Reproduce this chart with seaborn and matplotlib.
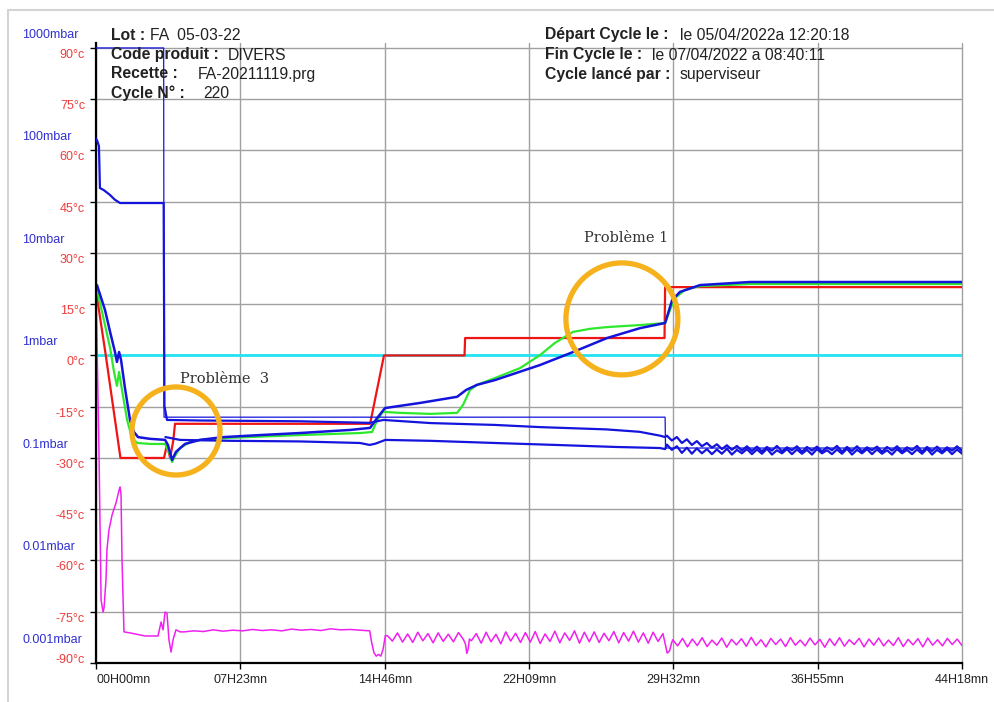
import numpy as np
import pandas as pd
import matplotlib
matplotlib.use("Agg")
import matplotlib.pyplot as plt
from matplotlib.lines import Line2D
from matplotlib.transforms import offset_copy
import seaborn as sns

# ---- axes ticks / labels ----
t_end = 44.3  # hours
x_ticks = [0, 7.383, 14.767, 22.15, 29.533, 36.917, 44.3]
x_labels = ["00H00mn", "07H23mn", "14H46mn", "22H09mn", "29H32mn", "36H55mn", "44H18mn"]
temp_ticks = [90, 75, 60, 45, 30, 15, 0, -15, -30, -45, -60, -75, -90]
temp_labels = ["90°c", "75°c", "60°c", "45°c", "30°c", "15°c", "0°c", "-15°c",
               "-30°c", "-45°c", "-60°c", "-75°c", "-90°c"]
press_ticks = [1000, 100, 10, 1, 0.1, 0.01, 0.001]
press_labels = ["1000mbar", "100mbar", "10mbar", "1mbar", "0.1mbar", "0.01mbar", "0.001mbar"]

# ---- temperatures (hours, °C) ----
ref_t = [0, 44.3]
ref_T = [0, 0]

red_t = [0.0, 0.5, 1.25, 3.48, 3.63, 3.79, 3.95, 4.04, 14.02, 14.73, 18.85, 18.88, 29.08, 29.11, 44.3]
red_T = [19.0, 0.0, -30.0, -30.0, -26.0, -30.0, -25.0, -20.0, -20.0, 0.0, 0.0, 5.1, 5.1, 20.0, 20.0]

green_t = [0.05, 0.46, 0.72, 0.92, 1.07, 1.18, 1.33, 1.59, 1.84, 2.10, 2.76, 3.53, 3.79, 3.89, 4.04,
           4.30, 4.81, 5.32, 6.85, 10.44, 13.51, 14.12, 14.38, 14.68, 15.55, 17.09, 18.47, 18.77,
           19.13, 19.49, 20.41, 21.69, 22.71, 23.48, 24.40, 25.27, 26.14, 27.83, 29.11, 29.36,
           29.62, 30.13, 30.90, 33.46, 44.3]
green_T = [19.2, 8.9, 2.2, -4.8, -8.9, -4.8, -10.1, -18.9, -24.1, -25.6, -25.9, -25.9, -29.1, -31.2,
           -29.4, -27.1, -25.3, -24.7, -24.1, -23.3, -22.7, -22.4, -18.9, -16.5, -16.8, -17.1,
           -16.8, -14.5, -10.1, -8.6, -6.6, -3.7, 0.1, 3.7, 6.9, 7.8, 8.3, 8.9, 9.5, 13.3, 16.8,
           19.2, 20.3, 20.9, 20.9]

probe_t = [0.05, 0.46, 0.72, 0.97, 1.07, 1.18, 1.28, 1.48, 1.74, 1.94, 2.15, 2.76, 3.53, 3.68,
           3.89, 4.09, 4.55, 5.32, 6.50, 8.39, 10.44, 13.0, 14.02, 14.38, 14.78, 16.57, 18.47,
           18.93, 19.49, 20.41, 22.71, 24.40, 26.14, 27.83, 29.11, 29.47, 29.87, 30.90, 33.46, 44.3]
probe_T = [20.6, 13.3, 6.9, 1.0, -1.9, 1.0, -1.3, -9.5, -18.9, -22.4, -23.9, -24.4, -24.7, -26.2,
           -30.6, -28.2, -25.9, -24.7, -23.9, -23.3, -22.7, -21.8, -21.2, -18.3, -15.4, -13.9,
           -12.1, -10.1, -8.6, -7.2, -2.8, 1.0, 5.1, 8.0, 9.5, 16.2, 18.6, 20.6, 21.5, 21.5]

cond_t = [0.0, 0.15, 0.26, 0.36, 0.41, 0.51, 0.56, 0.66, 0.82, 1.02, 1.18, 1.23, 1.28, 1.33, 1.43,
          1.74, 2.51, 3.17, 3.33, 3.43, 3.53, 3.63, 3.73, 3.84, 3.94, 4.09, 4.30]
cond_T = [19.2, -27.7, -71.6, -75.1, -73.9, -65.7, -56.9, -51.1, -46.7, -43.2, -39.4, -38.5, -40.8,
          -59.9, -80.9, -81.2, -82.1, -82.1, -78.0, -80.3, -75.1, -75.4, -83.2, -86.8, -83.2,
          -80.3, -80.9]
cond_a = [-80.9, -80.6, -80.8, -80.3, -80.7, -80.4, -80.6, -80.2, -80.5, -80.3, -80.6, -80.1,
          -80.4, -80.2, -80.5, -80.0, -80.3, -80.2, -80.4, -80.6]           # 4.5 h -> 14.0 h
cond_dip1 = [-84.0, -87.0, -88.0, -87.5, -88.0, -86.0, -82.0]          # 14.1 h -> 14.8 h
cond_c = [-82.0, -83.6, -81.2, -83.9, -81.5, -84.0, -81.0, -83.5, -81.4, -84.1, -81.2, -83.7,
          -81.6, -83.8, -81.1, -83.2]                                     # 14.9 h -> 18.8 h
cond_dip2 = [-84.5, -87.2, -86.0, -83.0]                                  # 18.9 h -> 19.1 h
cond_d = [-83.5, -81.4, -84.2, -81.0, -83.8, -81.6, -84.4, -80.9, -83.6, -81.3, -84.0, -81.1,
          -83.9, -80.8, -84.3, -81.5, -83.7, -80.7, -84.1, -81.2, -83.4, -80.6, -84.2, -81.0,
          -83.8, -80.9, -84.0, -81.3, -83.5, -80.8, -84.1, -81.1, -83.6, -80.7, -83.9, -81.2,
          -84.2, -81.0, -83.7, -81.4]                                     # 19.2 h -> 29.0 h
cond_dip3 = [-84.0, -87.1, -86.5, -84.0]                                  # 29.1 h -> 29.45 h
cond_e = [-83.2, -85.0, -82.8, -85.3, -83.0, -84.9, -82.6, -85.2, -83.3, -84.8, -82.7, -85.4,
          -83.1, -84.7, -82.9, -85.1, -82.5, -84.9, -83.2, -85.3, -82.8, -84.6, -83.0, -85.2,
          -82.6, -84.8, -83.3, -85.0, -82.7, -84.7, -83.1, -85.4, -82.9, -84.9, -82.6, -85.1,
          -83.2, -84.6, -82.8, -85.3, -83.0, -84.8, -82.7, -85.0, -83.3, -84.9, -82.6, -85.2,
          -83.1, -84.7, -82.9, -85.3, -82.7, -84.8, -83.2, -85.0, -82.8, -84.6, -83.0, -84.9]  # 29.5 h -> 44.3 h

# ---- pressures (hours, mbar) ----
sp_t = [0.0, 3.46, 3.48, 29.11, 29.13, 44.3]
sp_P = [1000, 1000, 0.25, 0.25, 0.125, 0.125]

g1_t = [0.0, 0.05, 0.1, 0.15, 0.2, 0.4, 0.7, 0.97, 1.23, 3.46, 3.50, 3.63, 5.3, 10.4, 14.0,
        14.7, 17.1, 20.4, 22.7, 26.1, 27.8, 28.85, 29.11]
g1_P = [130, 126, 118, 110, 43, 41, 37, 33, 30.7, 30.7, 0.32, 0.235, 0.232, 0.228, 0.22, 0.235,
        0.219, 0.21, 0.2, 0.19, 0.18, 0.165, 0.16]
g1_e = [0.165, 0.148, 0.160, 0.140, 0.152, 0.134, 0.146, 0.130, 0.140, 0.126, 0.136, 0.122,
        0.133, 0.120, 0.131, 0.118, 0.130, 0.117, 0.129, 0.116, 0.128, 0.118, 0.131, 0.116,
        0.127, 0.119, 0.130, 0.115, 0.128, 0.118, 0.129, 0.116, 0.127, 0.119, 0.131, 0.115,
        0.128, 0.117, 0.130, 0.116, 0.127, 0.119, 0.129, 0.115, 0.128, 0.118, 0.130, 0.116,
        0.127, 0.119, 0.131, 0.115, 0.128, 0.117, 0.129, 0.116, 0.127, 0.118, 0.130, 0.117]

g2_t = [3.55, 4.3, 6.9, 10.4, 13.5, 14.0, 14.3, 14.8, 17.1, 20.4, 23.5, 26.6, 28.85, 29.11]
g2_P = [0.16, 0.15, 0.147, 0.145, 0.14, 0.134, 0.138, 0.15, 0.147, 0.14, 0.134, 0.128, 0.125, 0.122]
g2_e = [0.135, 0.120, 0.130, 0.112, 0.126, 0.110, 0.124, 0.111, 0.122, 0.109, 0.121, 0.110,
        0.123, 0.108, 0.120, 0.111, 0.122, 0.109, 0.121, 0.110, 0.123, 0.108, 0.119, 0.111,
        0.122, 0.109, 0.121, 0.110, 0.120, 0.108, 0.122, 0.111, 0.119, 0.109, 0.121, 0.110,
        0.123, 0.108, 0.120, 0.111, 0.122, 0.109, 0.121, 0.110, 0.119, 0.108, 0.122, 0.111,
        0.120, 0.109, 0.121, 0.110, 0.123, 0.108, 0.120, 0.111, 0.122, 0.109, 0.121, 0.110]

# annotations
circle_t = [4.09, 26.9]
circle_T = [-22.1, 10.7]
note_t = [6.55, 27.1]
note_T = [-6.9, 34.4]
note_txt = ["Problème  3", "Problème 1"]


def seg(t0, t1, vals):
    return list(np.linspace(t0, t1, len(vals))), list(vals)


# assemble sampled segments
cond_parts = [(cond_t, cond_T), seg(4.5, 14.0, cond_a), seg(14.1, 14.8, cond_dip1),
              seg(14.9, 18.8, cond_c), seg(18.9, 19.1, cond_dip2), seg(19.2, 29.0, cond_d),
              seg(29.1, 29.45, cond_dip3), seg(29.5, 44.3, cond_e)]
cond_x = sum([p[0] for p in cond_parts], [])
cond_y = sum([p[1] for p in cond_parts], [])
g1_x = g1_t + seg(29.2, 44.3, g1_e)[0]
g1_y = g1_P + g1_e
g2_x = g2_t + seg(29.2, 44.3, g2_e)[0]
g2_y = g2_P + g2_e

sns.set_style("white")
plt.rcParams['font.family'] = ['Liberation Sans', 'DejaVu Sans']

fig = plt.figure(figsize=(9.95, 7.02), dpi=100)
ax = fig.add_axes([0.0965, 0.0556, 0.8704, 0.8832])
ax2 = ax.twinx()

red = '#f01414'
blue = '#1414dc'
green = '#2ee82e'
cyan = '#22e4f2'
magenta = '#f020f0'

kw = dict(estimator=None, sort=False)
sns.lineplot(x=ref_t, y=ref_T, ax=ax, color=cyan, linewidth=2.0, **kw)
sns.lineplot(x=red_t, y=red_T, ax=ax, color=red, linewidth=1.6, **kw)
sns.lineplot(x=green_t, y=green_T, ax=ax, color=green, linewidth=1.6, **kw)
sns.lineplot(x=probe_t, y=probe_T, ax=ax, color=blue, linewidth=1.8, **kw)
sns.lineplot(x=cond_x, y=cond_y, ax=ax, color=magenta, linewidth=1.1, **kw)

ax2.set_yscale('log')
sns.lineplot(x=sp_t, y=sp_P, ax=ax2, color=blue, linewidth=0.9, **kw)
sns.lineplot(x=g1_x, y=g1_y, ax=ax2, color=blue, linewidth=1.6, **kw)
sns.lineplot(x=g2_x, y=g2_y, ax=ax2, color=blue, linewidth=1.6, **kw)

ytop = 91.46
ax.set_xlim(0, t_end)
ax.set_ylim(-90, ytop)
ax2.set_ylim(1e-3, 10 ** (ytop / 30.0))

# grid and frame
ax.set_axisbelow(True)
ax.set_xticks(x_ticks)
ax.set_yticks(temp_ticks)
ax.grid(True, color='#a0a0a0', linewidth=1.0)
for gl in ax.get_xgridlines():
    gl.set_clip_on(False)
for s in ['top', 'right']:
    ax.spines[s].set_visible(False)
for s in ax2.spines.values():
    s.set_visible(False)
ax.spines['left'].set_color('black')
ax.spines['left'].set_linewidth(1.6)
ax.spines['bottom'].set_color('black')
ax.spines['bottom'].set_linewidth(1.6)
ax.tick_params(axis='y', left=True, labelleft=False, length=4, width=1, color='black', direction='out')
ax.tick_params(axis='x', bottom=True, length=4, width=1, color='black', direction='out',
               labelsize=9, pad=4, labelcolor='#222222')
ax.set_xticklabels(x_labels)
ax.get_xticklabels()[0].set_ha('left')
ax2.tick_params(axis='y', right=False, labelright=False, which='both')
ax2.set_yticks([])
ax2.minorticks_off()

# y labels: temperature (red) and pressure (blue) on the left
for v, lab in zip(temp_ticks, temp_labels):
    dy = 3 if v == -90 else -7
    tr = offset_copy(ax.get_yaxis_transform(), fig=fig, x=-11, y=dy, units='dots')
    ax.text(0, v, lab, transform=tr, ha='right', va='center', color='#f03c3c', fontsize=9)
for v, lab in zip(press_ticks, press_labels):
    dy = 23 if v == 0.001 else 13
    tr = offset_copy(ax2.get_yaxis_transform(), fig=fig, x=-74, y=dy, units='dots')
    ax2.text(0, v, lab, transform=tr, ha='left', va='center', color='#3030d0', fontsize=9)

# problem annotations
ax2.scatter(circle_t, circle_T, s=[4020, 6500], facecolors='none', edgecolors='#f5b21c',
            linewidths=3.8, transform=ax.transData, zorder=5)
for t, T, txt in zip(note_t, note_T, note_txt):
    ax2.text(t, T, txt, transform=ax.transData, ha='center', va='center', fontsize=10.5,
             family='DejaVu Serif', color='#333333', zorder=6)

# header text
W, H = 995.0, 702.0
def head(x, y, s, bold=False):
    fig.text(x / W, 1 - y / H, s, ha='left', va='center', fontsize=11.3,
             fontweight='bold' if bold else 'normal', color='#222222')

head(111, 35, "Lot :", True)
head(150, 35, "FA  05-03-22")
head(111, 55, "Code produit :", True)
head(228, 55, "DIVERS")
head(111, 74, "Recette :", True)
head(198, 74, "FA-20211119.prg")
head(111, 93, "Cycle N° :", True)
head(203, 93, "220")
head(545, 35, "Départ Cycle le :", True)
head(680, 35, "le 05/04/2022a 12:20:18")
head(545, 55, "Fin Cycle le :", True)
head(652, 55, "le 07/04/2022 a 08:40:11")
head(545, 74, "Cycle lancé par :", True)
head(680, 74, "superviseur")

# light outer frame
fig.add_artist(Line2D([8 / W, 1.0], [1 - 10 / H, 1 - 10 / H], color='#d4d4d4', linewidth=1.5))
fig.add_artist(Line2D([8 / W, 8 / W], [0.0, 1 - 10 / H], color='#d4d4d4', linewidth=1.5))

fig.savefig("out.png", dpi=100)
